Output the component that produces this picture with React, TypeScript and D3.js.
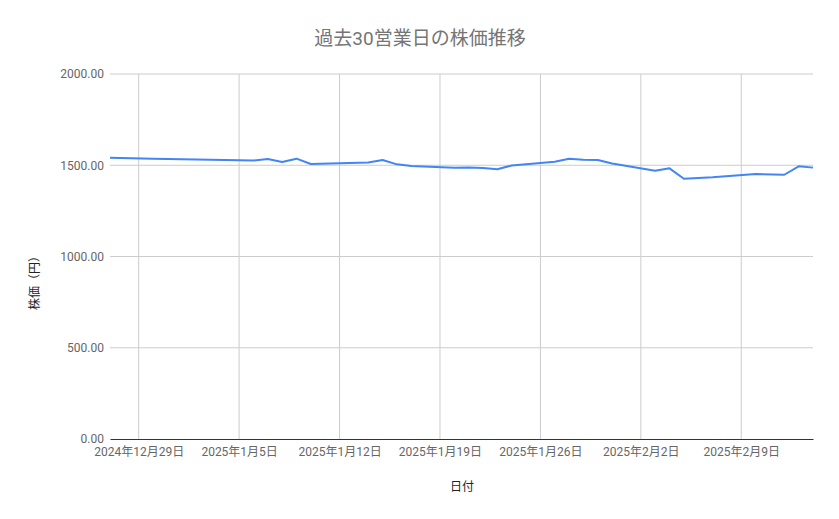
import * as d3 from "d3";
import { useRef, useEffect } from "react";

// 取引日（東京市場の営業日）
const dates = [
  "2024-12-27", "2024-12-30",
  "2025-01-06", "2025-01-07", "2025-01-08", "2025-01-09", "2025-01-10",
  "2025-01-14", "2025-01-15", "2025-01-16", "2025-01-17",
  "2025-01-20", "2025-01-21", "2025-01-22", "2025-01-23", "2025-01-24",
  "2025-01-27", "2025-01-28", "2025-01-29", "2025-01-30", "2025-01-31",
  "2025-02-03", "2025-02-04", "2025-02-05", "2025-02-06", "2025-02-07",
  "2025-02-10", "2025-02-12", "2025-02-13", "2025-02-14",
];

// 終値（円）
const prices = [
  1541, 1536,
  1526, 1534, 1518, 1536, 1507,
  1515, 1529, 1505, 1496,
  1486, 1487, 1485, 1478, 1499,
  1519, 1536, 1530, 1529, 1510,
  1470, 1483, 1426, 1430, 1434,
  1452, 1448, 1494, 1487,
];

const yTicks = [0, 500, 1000, 1500, 2000];
const xTickDates = ["2024-12-29", "2025-01-05", "2025-01-12", "2025-01-19", "2025-01-26", "2025-02-02", "2025-02-09"];

const FONT = "Roboto, 'Noto Sans CJK JP', sans-serif";

export default function App({
  width = 839,
  height = 519,
  marginTop = 74,
  marginRight = 26,
  marginBottom = 80,
  marginLeft = 110,
}: {
  width?: number;
  height?: number;
  marginTop?: number;
  marginRight?: number;
  marginBottom?: number;
  marginLeft?: number;
}) {
  const svgRef = useRef<SVGSVGElement | null>(null);

  useEffect(() => {
    const parse = d3.timeParse("%Y-%m-%d");
    const data = dates.map((d, i) => ({ date: parse(d) as Date, price: prices[i] }));

    const x = d3.scaleTime()
      .domain(d3.extent(data, (d) => d.date) as [Date, Date])
      .range([marginLeft, width - marginRight]);

    const y = d3.scaleLinear()
      .domain([0, 2000])
      .range([height - marginBottom, marginTop]);

    const svg = d3.select(svgRef.current)
      .attr("width", width)
      .attr("height", height)
      .attr("viewBox", [0, 0, width, height])
      .style("display", "block")
      .style("font-family", FONT);

    svg.selectAll("*").remove();

    svg.append("rect")
      .attr("width", width)
      .attr("height", height)
      .attr("fill", "#fff");

    // horizontal grid + y labels
    const yAxis = svg.append("g")
      .attr("transform", `translate(${marginLeft},0)`)
      .call(d3.axisLeft(y).tickValues(yTicks).tickFormat((v) => (+v).toFixed(2)).tickSize(0).tickPadding(6))
      .call((g) => g.select(".domain").remove());
    yAxis.selectAll(".tick line").remove();
    yAxis.selectAll(".tick text")
      .attr("fill", "#666")
      .attr("font-size", 12)
      .attr("font-family", FONT);

    svg.append("g")
      .selectAll("line")
      .data(yTicks.slice(1))
      .join("line")
      .attr("x1", marginLeft)
      .attr("x2", width - marginRight)
      .attr("y1", (d) => y(d))
      .attr("y2", (d) => y(d))
      .attr("stroke", "#ccc")
      .attr("stroke-width", 1);

    // vertical grid
    const xTicks = xTickDates.map((d) => parse(d) as Date);
    svg.append("g")
      .selectAll("line")
      .data(xTicks)
      .join("line")
      .attr("x1", (d) => x(d))
      .attr("x2", (d) => x(d))
      .attr("y1", marginTop)
      .attr("y2", height - marginBottom)
      .attr("stroke", "#ccc")
      .attr("stroke-width", 1);

    // x axis
    const fmt = d3.timeFormat("%Y年%-m月%-d日");
    const xAxis = svg.append("g")
      .attr("transform", `translate(0,${height - marginBottom})`)
      .call(d3.axisBottom(x).tickValues(xTicks).tickFormat((d) => fmt(d as Date)).tickSize(0).tickPadding(8));
    xAxis.select(".domain").attr("stroke", "#333").attr("stroke-width", 1.2);
    xAxis.selectAll(".tick text")
      .attr("fill", "#666")
      .attr("font-size", 12)
      .attr("font-family", FONT);

    // line
    const line = d3.line<{ date: Date; price: number }>()
      .x((d) => x(d.date))
      .y((d) => y(d.price));

    svg.append("path")
      .datum(data)
      .attr("fill", "none")
      .attr("stroke", "#4285f4")
      .attr("stroke-width", 2)
      .attr("stroke-linejoin", "round")
      .attr("d", line);

    // title
    svg.append("text")
      .attr("x", 420)
      .attr("y", 45)
      .attr("text-anchor", "middle")
      .attr("fill", "#757575")
      .attr("font-size", 19)
      .text("過去30営業日の株価推移");

    // axis titles
    svg.append("text")
      .attr("x", 462)
      .attr("y", 491)
      .attr("text-anchor", "middle")
      .attr("fill", "#222")
      .attr("font-size", 12)
      .text("日付");

    svg.append("text")
      .attr("transform", "translate(39,280) rotate(-90)")
      .attr("text-anchor", "middle")
      .attr("fill", "#222")
      .attr("font-size", 12)
      .text("株価（円）");
  }, [width, height, marginTop, marginRight, marginBottom, marginLeft]);

  return (
    <div style={{ margin: -8 }}>
      <svg ref={svgRef}></svg>
    </div>
  );
}
